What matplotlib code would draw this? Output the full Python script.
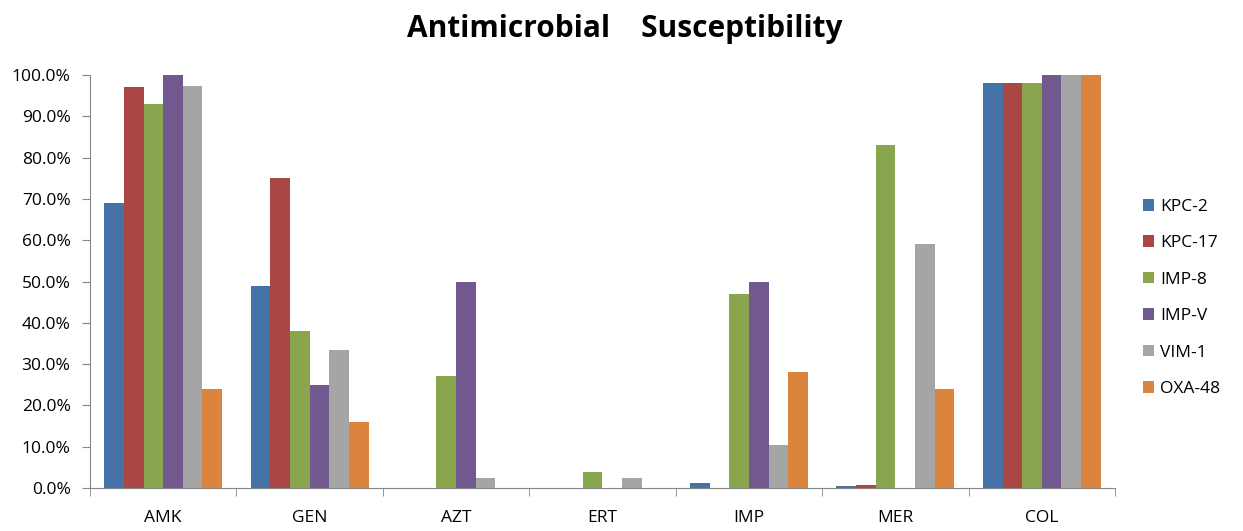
import matplotlib
matplotlib.use("Agg")
import matplotlib.pyplot as plt
import numpy as np
from matplotlib.ticker import FuncFormatter, FixedLocator

drugs = ["AMK", "GEN", "AZT", "ERT", "IMP", "MER", "COL"]
series = ["KPC-2", "KPC-17", "IMP-8", "IMP-V", "VIM-1", "OXA-48"]
kpc2 = [69.0, 49.0, 0.0, 0.0, 1.2, 0.5, 98.0]
kpc17 = [97.0, 75.0, 0.0, 0.0, 0.0, 0.8, 98.0]
imp8 = [93.0, 38.0, 27.0, 3.9, 47.0, 83.0, 98.0]
impv = [100.0, 25.0, 50.0, 0.0, 50.0, 0.0, 100.0]
vim1 = [97.3, 33.3, 2.4, 2.5, 10.5, 59.0, 100.0]
oxa48 = [24.0, 16.0, 0.0, 0.0, 28.0, 24.0, 100.0]
colors = ["#4572A7", "#AA4643", "#89A54E", "#71588F", "#A5A5A5", "#DB843D"]

plt.rcParams['font.family'] = ['Open Sans', 'DejaVu Sans']

fig = plt.figure(figsize=(12.43, 5.31), dpi=100)
ax = fig.add_axes([90 / 1243, 43 / 531, 1025 / 1243, 413 / 531])

x = np.arange(len(drugs))
w = 0.134
for i, (name, vals) in enumerate(zip(series, [kpc2, kpc17, imp8, impv, vim1, oxa48])):
    ax.bar(x + (i - 2.5) * w, vals, w, color=colors[i], label=name)

ax.set_xlim(-0.5, len(drugs) - 0.5)
ax.set_ylim(0, 100)
ax.set_yticks(np.arange(0, 101, 10))
ax.yaxis.set_major_formatter(FuncFormatter(lambda v, p: f"{v:.1f}%"))
ax.set_xticks(x)
ax.set_xticklabels(drugs)
ax.xaxis.set_minor_locator(FixedLocator(np.arange(-0.5, len(drugs), 1)))
ax.tick_params(axis='x', which='major', length=0, pad=16, labelsize=12.5)
ax.tick_params(axis='x', which='minor', length=6, color='#868686', direction='out')
ax.tick_params(axis='y', length=6, color='#868686', labelsize=12.5, pad=8)
for s in ['top', 'right']:
    ax.spines[s].set_visible(False)
for s in ['left', 'bottom']:
    ax.spines[s].set_color('#868686')

fig.text(0.503, 0.945, "Antimicrobial    Susceptibility", ha='center', va='center',
         fontsize=21.5, fontweight='bold')

ax.legend(loc='center left', bbox_to_anchor=(1.012, 0.46), frameon=False,
          fontsize=12.5, handlelength=0.65, handleheight=0.65, labelspacing=1.18,
          handletextpad=0.35)

fig.savefig("out.png", dpi=100)
